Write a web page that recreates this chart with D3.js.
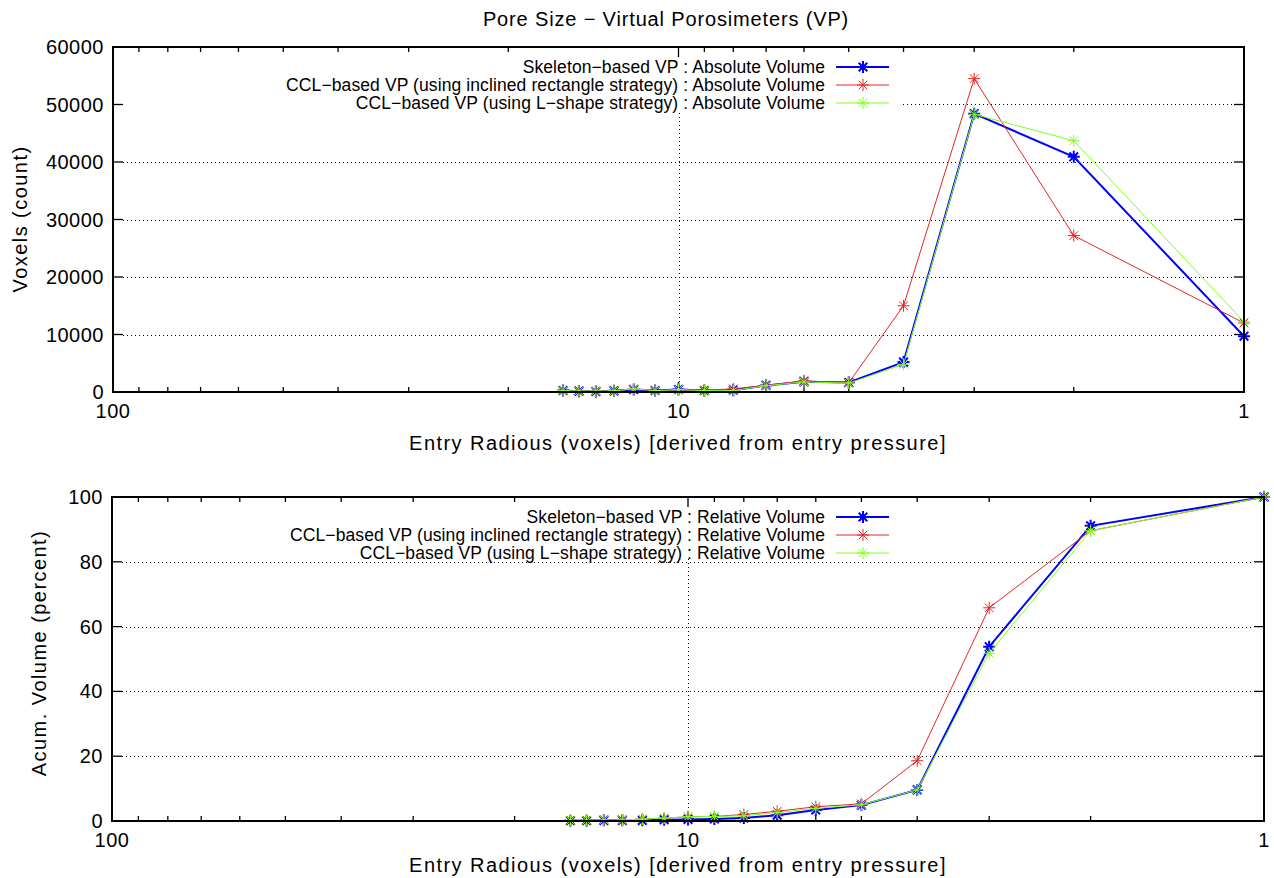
<!DOCTYPE html>
<html>
<head>
<meta charset="utf-8">
<script src="https://cdn.jsdelivr.net/npm/d3@7"></script>
<style>
  html, body { margin: 0; padding: 0; background: #fff; }
  svg { display: block; font-family: "Liberation Sans", Arial, Helvetica, sans-serif; }
</style>
</head>
<body>
<svg id="chart" width="1274" height="878"></svg>
<script>
// Entry radius (voxels), largest to smallest
const radii = [16, 15, 14, 13, 12, 11, 10, 9, 8, 7, 6, 5, 4, 3, 2, 1];

// Absolute volume per radius (voxel count)
const skeletonAbs = [250, 150, 100, 200, 450, 250, 450, 250, 300, 1150, 1800, 1650, 5200, 48400, 40900, 9700];
const inclinedAbs = [200, 150, 100, 200, 500, 250, 400, 300, 550, 1150, 1950, 1600, 15000, 54500, 27200, 12000];
const lshapeAbs   = [250, 150, 150, 200, 550, 250, 400, 250, 250, 1100, 1750, 1550, 4800, 48300, 43700, 12200];

// Accumulated volume (percent)
const skeletonRel = [0.1, 0.1, 0.2, 0.2, 0.2, 0.4, 0.5, 0.6, 0.9, 1.8, 3.4, 4.9, 9.6, 53.8, 91.1, 100];
const inclinedRel = [0.2, 0.2, 0.3, 0.3, 0.6, 0.9, 1.3, 1.4, 2.0, 3.0, 4.4, 5.3, 18.6, 65.8, 89.6, 100];
const lshapeRel   = [0.2, 0.2, 0.3, 0.3, 0.6, 0.9, 1.3, 1.4, 1.6, 2.6, 3.9, 5.0, 9.6, 51.8, 89.6, 100];

// Axis ticks
const xMajorTicks = [100, 10, 1];
const xMinorTicks = [90, 80, 70, 60, 50, 40, 30, 20, 9, 8, 7, 6, 5, 4, 3, 2];
const absTicks = [0, 10000, 20000, 30000, 40000, 50000, 60000];
const relTicks = [0, 20, 40, 60, 80, 100];

const seriesNames = [
  "Skeleton\u2212based VP",
  "CCL\u2212based VP (using inclined rectangle strategy)",
  "CCL\u2212based VP (using L\u2212shape strategy)"
];
const seriesColors = ["#0000ff", "#e02828", "#80ff20"];
const seriesWidths = [2, 1, 1];

const svg = d3.select("#chart");
svg.append("rect").attr("width", 1274).attr("height", 878).attr("fill", "#fff");

// text styles
const tickFont  = { size: 20, ls: 0.5 };
const titleFont = { size: 20, ls: 0.85 };
const labelFont = { size: 20, ls: 1.45 };
const keyFont   = { size: 17.5, ls: 0.1 };

function styled(sel, f) {
  return sel.attr("font-size", f.size).attr("letter-spacing", f.ls);
}

styled(svg.append("text"), titleFont)
  .attr("x", 666).attr("y", 26)
  .attr("text-anchor", "middle")
  .text("Pore Size \u2212 Virtual Porosimeters (VP)");

function asterisk(g, x, y, r, color, w) {
  const d = r * 0.72;
  const p = `M${x - r},${y}L${x + r},${y}M${x},${y - r}L${x},${y + r}` +
            `M${x - d},${y - d}L${x + d},${y + d}M${x - d},${y + d}L${x + d},${y - d}`;
  g.append("path").attr("d", p).attr("stroke", color).attr("stroke-width", w).attr("fill", "none");
}

function drawPanel(cfg) {
  const g = svg.append("g");
  const x = d3.scaleLog().domain([100, 1]).range([cfg.left, cfg.right]);
  const y = d3.scaleLinear().domain(cfg.yDomain).range([cfg.bottom, cfg.top]);

  // grid: horizontal at y ticks, vertical at inner major x ticks
  const grid = g.append("g")
    .attr("stroke", "#000").attr("stroke-width", 1).attr("stroke-dasharray", "1,3");
  cfg.yTicks.slice(1, -1).forEach(t => {
    grid.append("line")
      .attr("x1", cfg.left + 10).attr("x2", cfg.right - 10)
      .attr("y1", Math.round(y(t)) + 0.5).attr("y2", Math.round(y(t)) + 0.5);
  });
  xMajorTicks.slice(1, -1).forEach(t => {
    grid.append("line")
      .attr("x1", Math.round(x(t)) + 0.5).attr("x2", Math.round(x(t)) + 0.5)
      .attr("y1", cfg.top + 10).attr("y2", cfg.bottom - 10);
  });

  // key background blanks the grid beneath it
  g.append("rect")
    .attr("x", cfg.keyBox[0]).attr("y", cfg.keyBox[1])
    .attr("width", cfg.keyBox[2]).attr("height", cfg.keyBox[3])
    .attr("fill", "#fff");

  // ticks (inward, on all four sides)
  const ticks = g.append("g").attr("stroke", "#000").attr("stroke-width", 1.3);
  cfg.yTicks.forEach(t => {
    const yy = y(t);
    ticks.append("line").attr("x1", cfg.left).attr("x2", cfg.left + 10).attr("y1", yy).attr("y2", yy);
    ticks.append("line").attr("x1", cfg.right).attr("x2", cfg.right - 10).attr("y1", yy).attr("y2", yy);
  });
  xMajorTicks.forEach(t => {
    const xx = x(t);
    ticks.append("line").attr("x1", xx).attr("x2", xx).attr("y1", cfg.bottom).attr("y2", cfg.bottom - 10);
    ticks.append("line").attr("x1", xx).attr("x2", xx).attr("y1", cfg.top).attr("y2", cfg.top + 10);
  });
  xMinorTicks.forEach(t => {
    const xx = x(t);
    ticks.append("line").attr("x1", xx).attr("x2", xx).attr("y1", cfg.bottom).attr("y2", cfg.bottom - 5);
    ticks.append("line").attr("x1", xx).attr("x2", xx).attr("y1", cfg.top).attr("y2", cfg.top + 5);
  });

  // tick labels
  cfg.yTicks.forEach(t => {
    styled(g.append("text"), tickFont)
      .attr("x", cfg.left - 9).attr("y", y(t) + 7)
      .attr("text-anchor", "end")
      .text(t);
  });
  xMajorTicks.forEach(t => {
    styled(g.append("text"), tickFont)
      .attr("x", x(t)).attr("y", cfg.bottom + 26)
      .attr("text-anchor", "middle")
      .text(t);
  });

  // axis titles
  styled(g.append("text"), labelFont)
    .attr("x", cfg.xLabelX).attr("y", cfg.xLabelY)
    .attr("text-anchor", "middle")
    .text("Entry Radious (voxels) [derived from entry pressure]");
  styled(g.append("text"), labelFont)
    .attr("transform", `translate(${cfg.yLabelX},${cfg.yLabelY}) rotate(-90)`)
    .attr("text-anchor", "middle")
    .text(cfg.yLabel);

  // series
  const line = d3.line().x((d, i) => x(radii[i])).y(d => y(d));
  cfg.series.forEach((vals, s) => {
    g.append("path")
      .attr("d", line(vals))
      .attr("fill", "none")
      .attr("stroke", seriesColors[s])
      .attr("stroke-width", seriesWidths[s])
      .attr("stroke-linejoin", "miter");
    const mg = g.append("g");
    vals.forEach((v, i) => asterisk(mg, x(radii[i]), y(v), 6, seriesColors[s], seriesWidths[s]));
  });

  // key
  seriesNames.forEach((name, s) => {
    const ky = cfg.keyRows[s];
    styled(g.append("text"), keyFont)
      .attr("x", cfg.keyTextX).attr("y", ky + 6)
      .attr("text-anchor", "end")
      .text(`${name} : ${cfg.keySuffix}`);
    g.append("line")
      .attr("x1", cfg.keyTextX + 11).attr("x2", cfg.keyTextX + 64)
      .attr("y1", ky).attr("y2", ky)
      .attr("stroke", seriesColors[s]).attr("stroke-width", seriesWidths[s]);
    asterisk(g, cfg.keyTextX + 38, ky, 6, seriesColors[s], seriesWidths[s]);
  });

  // frame
  g.append("rect")
    .attr("x", cfg.left).attr("y", cfg.top)
    .attr("width", cfg.right - cfg.left).attr("height", cfg.bottom - cfg.top)
    .attr("fill", "none").attr("stroke", "#000").attr("stroke-width", 2);
}

drawPanel({
  left: 113, right: 1244, top: 47, bottom: 392,
  yDomain: [0, 60000], yTicks: absTicks,
  series: [skeletonAbs, inclinedAbs, lshapeAbs],
  yLabel: "Voxels (count)", yLabelX: 27, yLabelY: 219,
  xLabelX: 678, xLabelY: 450,
  keySuffix: "Absolute Volume",
  keyTextX: 825, keyRows: [67, 85, 103],
  keyBox: [114, 57, 786, 55]
});

drawPanel({
  left: 112, right: 1264, top: 497, bottom: 821,
  yDomain: [0, 100], yTicks: relTicks,
  series: [skeletonRel, inclinedRel, lshapeRel],
  yLabel: "Acum. Volume (percent)", yLabelX: 46, yLabelY: 653,
  xLabelX: 678, xLabelY: 872,
  keySuffix: "Relative Volume",
  keyTextX: 825, keyRows: [517, 535, 553],
  keyBox: [275, 507, 625, 52]
});
</script>
</body>
</html>
